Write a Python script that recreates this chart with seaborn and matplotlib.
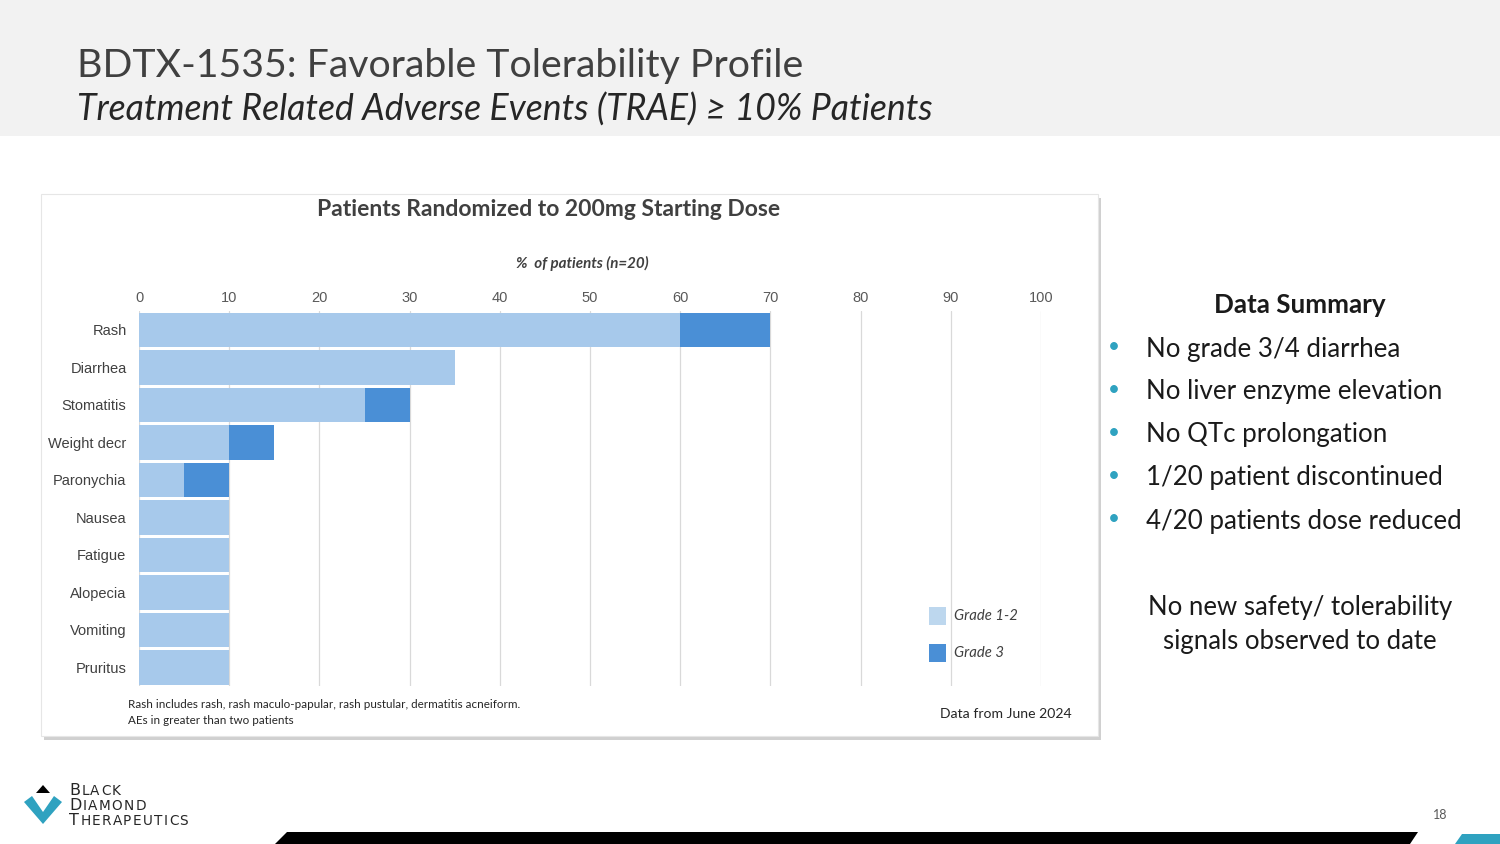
import matplotlib
matplotlib.use("Agg")
import matplotlib.pyplot as plt
from matplotlib.patches import Rectangle, Polygon
import seaborn as sns
import pandas as pd

# ---------------- data ----------------
categories = ["Rash", "Diarrhea", "Stomatitis", "Weight decr", "Paronychia",
              "Nausea", "Fatigue", "Alopecia", "Vomiting", "Pruritus"]
grade_1_2 = [60, 35, 25, 10, 5, 10, 10, 10, 10, 10]
grade_3 = [10, 0, 5, 5, 5, 0, 0, 0, 0, 0]
x_ticks = [0, 10, 20, 30, 40, 50, 60, 70, 80, 90, 100]
summary_items = ["No grade 3/4 diarrhea", "No liver enzyme elevation",
                 "No QTc prolongation", "1/20 patient discontinued",
                 "4/20 patients dose reduced"]

df = pd.DataFrame({"AE": categories, "g12": grade_1_2, "g3": grade_3})
df["total"] = df["g12"] + df["g3"]

LIGHT = "#a7c9eb"
DARK = "#4a8fd6"
TEAL = "#2fa2c0"
W, H = 1500, 844

sns.set_theme(style="white")
plt.rcParams["font.family"] = ["Lato", "DejaVu Sans"]

fig = plt.figure(figsize=(15, 8.44), dpi=100)
fig.patch.set_facecolor("white")

def fx(px):
    return px / W

def fy(py):
    return 1 - py / H

# header band
fig.patches.append(Rectangle((0, fy(136)), 1, 136 / H, transform=fig.transFigure,
                             facecolor="#f2f2f2", edgecolor="none", zorder=-2))
fig.text(fx(77), fy(66), "BDTX-1535: Favorable Tolerability Profile", fontsize=28.3,
         color="#404040", va="center", ha="left")
fig.text(fx(77), fy(110), "Treatment Related Adverse Events (TRAE) \u2265 10% Patients",
         fontsize=25.7, color="#262626", va="center", ha="left", style="italic")

# chart panel with shadow
fig.patches.append(Rectangle((fx(44), fy(740)), 1057 / W, 542 / H, transform=fig.transFigure,
                             facecolor="#d0d0d0", edgecolor="none", zorder=-2))
fig.patches.append(Rectangle((fx(41), fy(736)), 1057 / W, 542 / H, transform=fig.transFigure,
                             facecolor="white", edgecolor="#e6e6e6", lw=0.8, zorder=-1))

# axes
ax = fig.add_axes([fx(139), fy(686), (1041 - 139) / W, (686 - 311) / H])
ax.set_zorder(3)
ax.set_facecolor("none")
sns.barplot(data=df, y="AE", x="total", orient="h", color=DARK, width=0.92,
            saturation=1, ax=ax, edgecolor="none", zorder=3)
sns.barplot(data=df, y="AE", x="g12", orient="h", color=LIGHT, width=0.92,
            saturation=1, ax=ax, edgecolor="none", zorder=4)
ax.set_xlim(0, 100)
ax.set_ylim(len(categories) - 0.5, -0.5)
ax.set_xticks(x_ticks)
ax.xaxis.tick_top()
ax.xaxis.grid(True, color="#d9d9d9", lw=0.9, zorder=0)
ax.set_axisbelow(True)
for s in ax.spines.values():
    s.set_visible(False)
ax.tick_params(axis="x", length=0, pad=4, labelsize=10.5, labelcolor="#595959")
ax.tick_params(axis="y", length=0, pad=9, labelsize=10.5, labelcolor="#404040")
for lbl in ax.get_xticklabels() + ax.get_yticklabels():
    lbl.set_family(["Liberation Sans Narrow", "Liberation Sans", "DejaVu Sans"])
ax.set_xlabel("")
ax.set_ylabel("")

# chart title and axis title
fig.text(fx(549), fy(210), "Patients Randomized to 200mg Starting Dose", fontsize=16.5,
         weight="bold", color="#404040", ha="center", va="center")
fig.text(fx(582), fy(263), "%  of patients (n=20)", fontsize=10.9, weight="bold",
         style="italic", color="#404040", ha="center", va="center")

# legend
for py, col, txt in [(616, "#bdd7ee", "Grade 1-2"), (653, DARK, "Grade 3")]:
    fig.patches.append(Rectangle((fx(929), fy(py + 9)), 17 / W, 18 / H,
                                 transform=fig.transFigure, facecolor=col,
                                 edgecolor="none", zorder=2))
    fig.text(fx(954), fy(py), txt, fontsize=10.7, style="italic", color="#404040",
             ha="left", va="center", zorder=5,
             bbox=dict(facecolor="white", edgecolor="none", pad=1))

# footnotes
fig.text(fx(128), fy(705), "Rash includes rash, rash maculo-papular, rash pustular, dermatitis acneiform.",
         fontsize=8.4, color="#262626", ha="left", va="center")
fig.text(fx(128), fy(720), "AEs in greater than two patients", fontsize=8.4, color="#262626",
         ha="left", va="center")
fig.text(fx(1072), fy(714), "Data from June 2024", fontsize=10.1, color="#262626",
         ha="right", va="center")

# data summary
fig.text(fx(1300), fy(305), "Data Summary", fontsize=18.7, weight="bold", color="#1a1a1a",
         ha="center", va="center")
for i, item in enumerate(summary_items):
    py = 349 + i * 43
    fig.text(fx(1114), fy(py - 2), "\u2022", fontsize=15, color=TEAL, ha="center", va="center")
    fig.text(fx(1146), fy(py), item, fontsize=18.6, color="#1a1a1a", ha="left", va="center")
fig.text(fx(1300), fy(608), "No new safety/ tolerability", fontsize=18.5, color="#1a1a1a",
         ha="center", va="center")
fig.text(fx(1300), fy(642), "signals observed to date", fontsize=18.5, color="#1a1a1a",
         ha="center", va="center")

# logo
fig.patches.append(Polygon([[fx(36), fy(793)], [fx(50), fy(793)], [fx(43), fy(785)]],
                           closed=True, transform=fig.transFigure, facecolor="black",
                           edgecolor="none"))
fig.patches.append(Polygon([[fx(24), fy(802)], [fx(32), fy(796)], [fx(43), fy(812)],
                            [fx(54), fy(796)], [fx(62), fy(802)], [fx(43), fy(824)]],
                           closed=True, transform=fig.transFigure, facecolor=TEAL,
                           edgecolor="none"))
renderer = fig.canvas.get_renderer()
for j, word in enumerate(["BLACK", "DIAMOND", "THERAPEUTICS"]):
    base = fy(795 + j * 15)
    xpix = 69
    for k, ch in enumerate(word):
        t = fig.text(xpix / W, base, ch, fontsize=11.5 if k == 0 else 9.8, color="#262626",
                     ha="left", va="baseline", family=["DejaVu Sans"])
        bb = t.get_window_extent(renderer=renderer)
        xpix = bb.x1 + 1.3

# page number and footer bars
fig.text(fx(1440), fy(815), "18", fontsize=9, color="#595959", ha="center", va="center")
fig.patches.append(Polygon([[fx(275), fy(844)], [fx(287), fy(832)], [fx(1418), fy(832)],
                            [fx(1410), fy(844)]], closed=True, transform=fig.transFigure,
                           facecolor="black", edgecolor="none"))
fig.patches.append(Polygon([[fx(1455), fy(844)], [fx(1462), fy(834)], [fx(1500), fy(834)],
                            [fx(1500), fy(844)]], closed=True, transform=fig.transFigure,
                           facecolor=TEAL, edgecolor="none"))

fig.savefig("out.png", dpi=100)
